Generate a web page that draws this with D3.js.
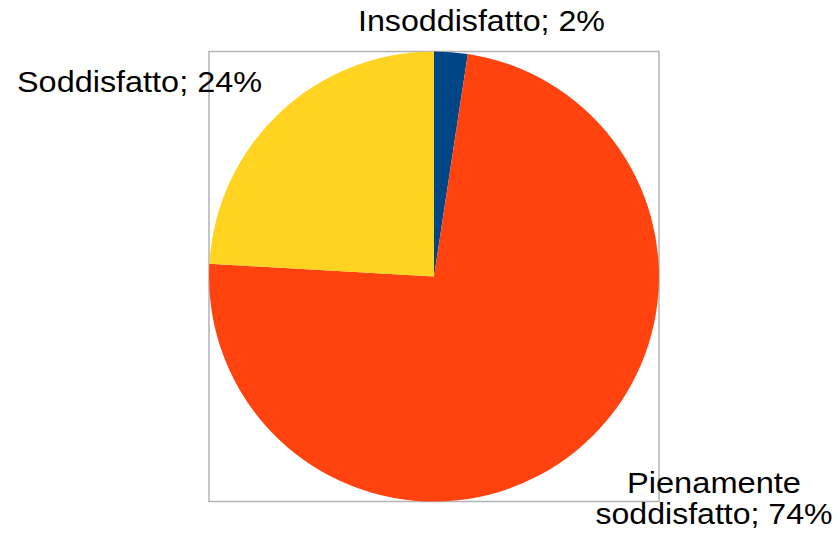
<!DOCTYPE html>
<html>
<head>
<meta charset="utf-8">
<script src="https://cdn.jsdelivr.net/npm/d3@7"></script>
<style>
  html, body { margin: 0; padding: 0; background: #fff; }
  text { font-family: "Liberation Sans", Arial, sans-serif; }
</style>
</head>
<body>
<div class="chart"></div>
<script>
// slice categories and their shares
var categories = ["Insoddisfatto", "Pienamente soddisfatto", "Soddisfatto"];
var values = [2.4, 73.5, 24.1];
var colors = ["#004586", "#ff420e", "#ffd320"];

var dims = { width: 838, height: 537 };
var center = { x: 434, y: 276.5 };
var radius = 225;

var svg = d3.select(".chart")
  .append("svg")
  .attr("width", dims.width)
  .attr("height", dims.height);

//the grey frame round the plot area
svg.append("rect")
  .attr("x", center.x - radius)
  .attr("y", center.y - radius)
  .attr("width", radius * 2)
  .attr("height", radius * 2)
  .attr("fill", "none")
  .attr("stroke", "#b3b3b3")
  .attr("stroke-width", 1.5);

var total = d3.sum(values);
var data = categories.map((c, i) => ({ name: c, value: values[i], color: colors[i] }));

var pie = d3.pie()
  .sort(null)
  .value(d => d.value);

var arc = d3.arc()
  .innerRadius(0)
  .outerRadius(radius);

var g = svg.append("g")
  .attr("transform", "translate(" + center.x + "," + center.y + ")");

g.selectAll("path")
  .data(pie(data))
  .enter()
  .append("path")
  .attr("d", arc)
  .attr("fill", d => d.data.color);

// label placement, same order as the categories (x centre, baselines, line widths)
var labelPos = [
  { x: 481.5, y: [31], w: [247] },
  { x: 714, y: [493, 524], w: [174, 237] },
  { x: 139.5, y: [92], w: [245] }
];

data.forEach((d, i) => {
  var pct = Math.round(d.value / total * 100) + "%";
  var lines = labelPos[i].y.length > 1
    ? ["Pienamente", "soddisfatto; " + pct]
    : [d.name + "; " + pct];
  lines.forEach((l, j) => {
    svg.append("text")
      .attr("text-anchor", "middle")
      .attr("font-size", 29)
      .attr("fill", "#000")
      .attr("x", labelPos[i].x)
      .attr("y", labelPos[i].y[j])
      .attr("textLength", labelPos[i].w[j])
      .attr("lengthAdjust", "spacingAndGlyphs")
      .text(l);
  });
});
</script>
</body>
</html>
